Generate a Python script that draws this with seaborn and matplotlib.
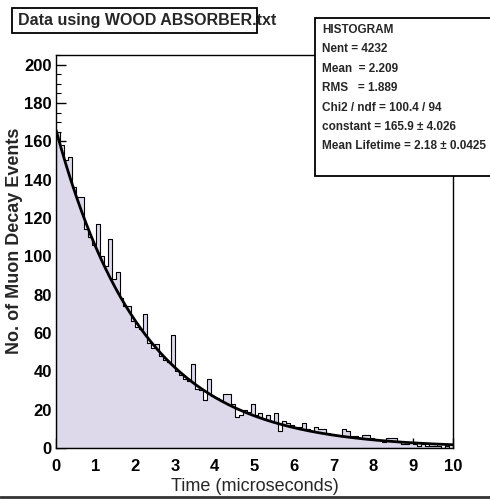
import numpy as np
import pandas as pd
import matplotlib
matplotlib.use("Agg")
import matplotlib.pyplot as plt
from matplotlib.lines import Line2D
from matplotlib.patches import Rectangle
from matplotlib.ticker import MultipleLocator
import seaborn as sns

# Decay-time histogram: 100 bins of 0.1 microseconds from 0 to 10
bin_edges = [round(0.1 * i, 2) for i in range(101)]
counts = [
    165, 158, 150, 152, 136, 131, 131, 114, 110, 106,
    117, 100, 95, 109, 88, 92, 78, 74, 74, 66,
    63, 62, 70, 55, 52, 54, 48, 46, 45, 59,
    40, 38, 36, 35, 44, 31, 30, 25, 36, 27,
    26, 25, 28, 28, 23, 16, 17, 20, 19, 23,
    17, 18, 15, 17, 14, 18, 9, 14, 13, 12,
    11, 11, 13, 10, 9, 11, 10, 10, 8, 7,
    7, 6, 10, 9, 6, 6, 5, 7, 7, 5,
    4, 4, 3, 5, 5, 5, 3, 2, 2, 3,
    2, 1, 2, 1, 1, 1, 1, 0, 1, 0,
]

# Exponential fit parameters
fit_constant = 165.9
fit_lifetime = 2.18

stats_lines = [
    "HISTOGRAM",
    "Nent = 4232",
    "Mean  = 2.209",
    "RMS   = 1.889",
    "Chi2 / ndf = 100.4 / 94",
    "constant = 165.9 \u00b1 4.026",
    "Mean Lifetime = 2.18 \u00b1 0.0425",
]

title_text = "Data using WOOD ABSORBER.txt"
x_label = "Time (microseconds)"
y_label = "No. of Muon Decay Events"

sns.set_style("white")
plt.rcParams["font.family"] = ["Liberation Sans", "DejaVu Sans"]

W, H = 490, 499
fig = plt.figure(figsize=(W / 100, H / 100), dpi=100)
ax = fig.add_axes([56 / W, 1 - 448 / H, (453 - 56) / W, (448 - 55) / H])

centers = [(a + b) / 2 for a, b in zip(bin_edges[:-1], bin_edges[1:])]
df = pd.DataFrame({"time": centers, "n": counts})
sns.histplot(data=df, x="time", weights="n", bins=bin_edges, element="step",
             fill=True, color="#ddd8ea", edgecolor="black", linewidth=0.8,
             alpha=1.0, ax=ax)

t = np.linspace(0, 10, 400)
fit_df = pd.DataFrame({"time": t, "fit": fit_constant * np.exp(-t / fit_lifetime)})
sns.lineplot(data=fit_df, x="time", y="fit", color="black", linewidth=2.0, ax=ax)

ax.set_xlim(0, 10)
ax.set_ylim(0, 205)
ax.xaxis.set_major_locator(MultipleLocator(1))
ax.xaxis.set_minor_locator(MultipleLocator(0.2))
ax.yaxis.set_major_locator(MultipleLocator(20))
ax.yaxis.set_minor_locator(MultipleLocator(5))
ax.tick_params(which="both", direction="in", top=False, right=False,
               bottom=True, left=True, colors="black")
ax.tick_params(which="major", length=7, width=1.0, labelsize=12)
ax.tick_params(which="minor", length=3.5, width=0.8)
ax.tick_params(axis="x", which="major", pad=8)
ax.tick_params(axis="y", which="major", pad=3)
for lbl in ax.get_xticklabels() + ax.get_yticklabels():
    lbl.set_fontweight("bold")
for s in ax.spines.values():
    s.set_visible(True)
    s.set_color("black")
    s.set_linewidth(1.0)

ax.set_xlabel(x_label, fontsize=13, labelpad=3)
ax.set_ylabel(y_label, fontsize=13, fontweight="bold")
ax.yaxis.set_label_coords(-0.082, (448 - 241) / 393)

# Title box at top left
fig.text(18 / W, 1 - 21 / H, title_text, fontsize=11.5, fontweight="bold",
         va="center", ha="left", zorder=6)
fig.patches.append(Rectangle((12 / W, 1 - 33 / H), (257 - 12) / W, 25 / H,
                             transform=fig.transFigure, facecolor="none",
                             edgecolor="black", linewidth=1.3, zorder=7))

# Statistics box at top right
fig.patches.append(Rectangle((315 / W, 1 - 176 / H), 200 / W, 158 / H,
                             transform=fig.transFigure, facecolor="white",
                             edgecolor="black", linewidth=1.3, zorder=5))
for k, line in enumerate(stats_lines):
    fig.text(322 / W, 1 - (30 + k * 19.4) / H, line, fontsize=8.5,
             fontweight="bold", va="center", ha="left", zorder=6)

# Dark edge along the bottom of the page
fig.lines.append(Line2D([0, 1], [2 / H, 2 / H], transform=fig.transFigure,
                        color="#333333", linewidth=2))

fig.savefig("out.png", dpi=100)
